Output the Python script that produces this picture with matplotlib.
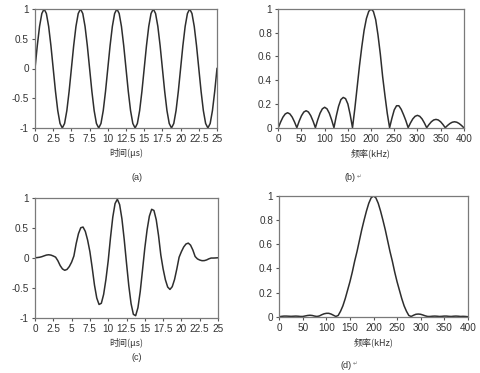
import numpy as np
import matplotlib
matplotlib.use("Agg")
import matplotlib.pyplot as plt

# ---------------- data ----------------
time_us = np.arange(81) * 0.3125   # sample times (μs)
freq_khz = np.arange(81) * 5.0     # sample frequencies (kHz)

signal_a = [0, 0.383, 0.707, 0.924, 1, 0.924, 0.707, 0.383, 0, -0.383, -0.707, -0.924, -1, -0.924, -0.707, -0.383,
            0, 0.383, 0.707, 0.924, 1, 0.924, 0.707, 0.383, 0, -0.383, -0.707, -0.924, -1, -0.924, -0.707, -0.383,
            0, 0.383, 0.707, 0.924, 1, 0.924, 0.707, 0.383, 0, -0.383, -0.707, -0.924, -1, -0.924, -0.707, -0.383,
            0, 0.383, 0.707, 0.924, 1, 0.924, 0.707, 0.383, 0, -0.383, -0.707, -0.924, -1, -0.924, -0.707, -0.383,
            0, 0.383, 0.707, 0.924, 1, 0.924, 0.707, 0.383, 0, -0.383, -0.707, -0.924, -1, -0.924, -0.707, -0.383,
            0]

spectrum_b = [0, 0.048, 0.089, 0.116, 0.126, 0.116, 0.089, 0.048,
              0, 0.055, 0.101, 0.132, 0.143, 0.132, 0.101, 0.055,
              0, 0.066, 0.122, 0.159, 0.172, 0.159, 0.122, 0.066,
              0, 0.098, 0.181, 0.237, 0.255, 0.245, 0.2, 0.11,
              0, 0.16, 0.34, 0.52, 0.68, 0.82, 0.92, 0.98,
              1.0, 0.98, 0.91, 0.78, 0.62, 0.43, 0.27, 0.12,
              0, 0.08, 0.15, 0.185, 0.185, 0.155, 0.11, 0.06,
              0, 0.04, 0.074, 0.096, 0.104, 0.096, 0.074, 0.04,
              0, 0.027, 0.05, 0.065, 0.07, 0.065, 0.05, 0.027,
              0, 0.019, 0.035, 0.046, 0.05, 0.046, 0.035, 0.019,
              0]

signal_c = [0, 0.003, 0.008, 0.018, 0.032, 0.045, 0.05, 0.044, 0.029, 0.01,
            -0.05, -0.131, -0.187, -0.21, -0.195, -0.147, -0.074, 0.029, 0.237, 0.403,
            0.502, 0.514, 0.441, 0.296, 0.101, -0.166, -0.457, -0.674, -0.782, -0.762,
            -0.614, -0.364, -0.052, 0.335, 0.679, 0.907, 0.98, 0.889, 0.651, 0.306,
            -0.089, -0.467, -0.769, -0.947, -0.97, -0.836, -0.566, -0.206, 0.16, 0.467,
            0.696, 0.811, 0.791, 0.636, 0.373, 0.046, -0.185, -0.368, -0.49, -0.53,
            -0.484, -0.364, -0.187, 0.009, 0.102, 0.18, 0.23, 0.245, 0.211, 0.13,
            0.021, -0.019, -0.038, -0.049, -0.048, -0.037, -0.018, -0.005, -0.005, -0.003,
            0.0]

spectrum_d = [0.0, 0.003, 0.005, 0.005, 0.004, 0.003, 0.004, 0.005, 0.004, 0.002,
              0.002, 0.006, 0.01, 0.012, 0.01, 0.005, 0.002, 0.006, 0.016, 0.024,
              0.028, 0.028, 0.022, 0.012, 0.002, 0.01, 0.045, 0.09, 0.15, 0.22,
              0.29, 0.37, 0.46, 0.54, 0.63, 0.72, 0.8, 0.875, 0.94, 0.985,
              1.0, 0.985, 0.94, 0.875, 0.8, 0.72, 0.63, 0.54, 0.46, 0.37,
              0.29, 0.22, 0.15, 0.09, 0.045, 0.01, 0.002, 0.012, 0.02, 0.022,
              0.02, 0.014, 0.007, 0.002, 0.002, 0.004, 0.005, 0.004, 0.002, 0.003,
              0.005, 0.005, 0.003, 0.002, 0.004, 0.005, 0.004, 0.002, 0.003, 0.002,
              0.0]

time_ticks = [0, 2.5, 5, 7.5, 10, 12.5, 15, 17.5, 20, 22.5, 25]
time_ticklabels = ["0", "2.5", "5", "7.5", "10", "12.5", "15", "17.5", "20", "22.5", "25"]
amp_ticks = [-1, -0.5, 0, 0.5, 1]
amp_ticklabels = ["-1", "-0.5", "0", "0.5", "1"]
freq_ticks = [0, 50, 100, 150, 200, 250, 300, 350, 400]
freq_ticklabels = ["0", "50", "100", "150", "200", "250", "300", "350", "400"]
mag_ticks = [0, 0.2, 0.4, 0.6, 0.8, 1]
mag_ticklabels = ["0", "0.2", "0.4", "0.6", "0.8", "1"]

time_label = "时间(μs)"
freq_label = "频率(kHz)"
captions = ["(a)", "(b)", "(c)", "(d)"]

# ---------------- figure ----------------
W, H = 480, 373
fig = plt.figure(figsize=(W / 100, H / 100), dpi=100)
fig.patch.set_facecolor("white")

tick_family = ["Liberation Sans Narrow", "Liberation Sans", "DejaVu Sans"]
cjk_family = ["Noto Sans CJK SC", "DejaVu Sans"]
line_color = "#2e2e2e"
frame_color = "#7a7a7a"


def px_axes(l, t, r, b):
    return fig.add_axes([l / W, 1 - b / H, (r - l) / W, (b - t) / H])


def style(ax, xt, xtl, xl, yt, ytl, yl, xlabel):
    ax.set_xlim(*xl)
    ax.set_ylim(*yl)
    ax.set_xticks(xt)
    ax.set_xticklabels(xtl, family=tick_family, fontsize=7.2, color="#333333")
    ax.set_yticks(yt)
    ax.set_yticklabels(ytl, family=tick_family, fontsize=7.2, color="#333333")
    ax.tick_params(direction="out", length=2.5, width=0.8, color="#555555", pad=2)
    for s in ax.spines.values():
        s.set_color(frame_color)
        s.set_linewidth(0.9)
    ax.set_xlabel(xlabel, family=cjk_family, fontsize=6.5, color="#333333", labelpad=3)


ax_a = px_axes(35, 9, 217, 128)
ax_a.plot(time_us, signal_a, color=line_color, lw=1.1)
style(ax_a, time_ticks, time_ticklabels, (0, 25), amp_ticks, amp_ticklabels, (-1, 1), time_label)

ax_b = px_axes(278.3, 9, 463.8, 127.7)
ax_b.plot(freq_khz, spectrum_b, color=line_color, lw=1.1)
style(ax_b, freq_ticks, freq_ticklabels, (0, 400), mag_ticks, mag_ticklabels, (0, 1), freq_label)

ax_c = px_axes(35, 198, 218, 317.5)
ax_c.plot(time_us, signal_c, color=line_color, lw=1.1)
style(ax_c, time_ticks, time_ticklabels, (0, 25), amp_ticks, amp_ticklabels, (-1, 1), time_label)

ax_d = px_axes(279.3, 196, 467.7, 316.7)
ax_d.plot(freq_khz, spectrum_d, color=line_color, lw=1.1)
style(ax_d, freq_ticks, freq_ticklabels, (0, 400), mag_ticks, mag_ticklabels, (0, 1), freq_label)

cap_pos = [(137, 178), (350, 178), (137, 357), (346, 365)]
for (cx, cy), txt in zip(cap_pos, captions):
    fig.text(cx / W, 1 - cy / H, txt, family=tick_family, fontsize=6.5,
             color="#333333", ha="center", va="center")
for (cx, cy) in [(cap_pos[1][0] + 9, cap_pos[1][1] - 1), (cap_pos[3][0] + 9, cap_pos[3][1] - 1)]:
    fig.text(cx / W, 1 - cy / H, "\u21b5", family=["DejaVu Sans"], fontsize=4,
             color="#777777", ha="center", va="center")

fig.savefig("out.png", dpi=100, facecolor="white")
